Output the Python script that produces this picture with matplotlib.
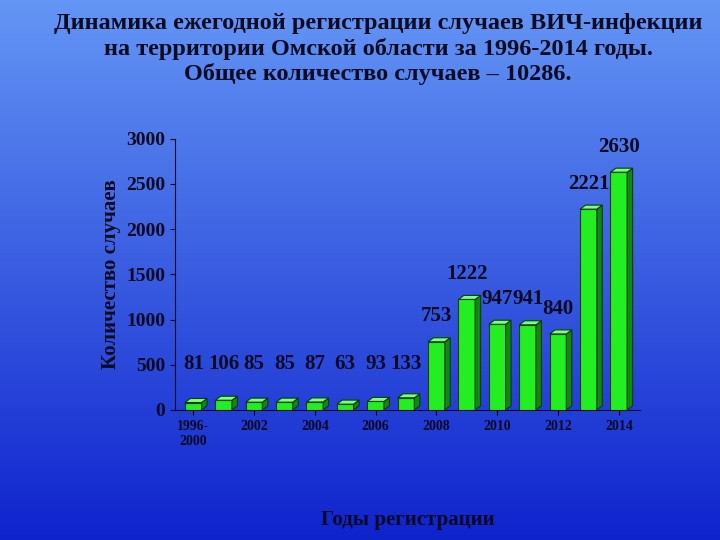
import numpy as np
import matplotlib
matplotlib.use('Agg')
import matplotlib.pyplot as plt
from matplotlib.patches import Polygon

plt.rcParams['font.family'] = ['Liberation Serif', 'DejaVu Serif']
plt.rcParams['font.weight'] = 'bold'

years = ['1996-\n2000', '2001', '2002', '2003', '2004', '2005', '2006', '2007',
         '2008', '2009', '2010', '2011', '2012', '2013', '2014']
cases = [81, 106, 85, 85, 87, 63, 93, 133, 753, 1222, 947, 941, 840, 2221, 2630]

fig = plt.figure(figsize=(7.2, 5.4), dpi=100)

# background gradient
bg = fig.add_axes([0, 0, 1, 1], zorder=-10)
top = np.array([100, 150, 245]) / 255
bottom = np.array([15, 35, 205]) / 255
t = np.linspace(0, 1, 256)[:, None]
grad = top * (1 - t) + bottom * t
bg.imshow(grad[:, None, :].repeat(2, axis=1), aspect='auto', extent=[0, 1, 0, 1])
bg.axis('off')

fig.text(0.525, 0.975, 'Динамика ежегодной регистрации случаев ВИЧ-инфекции\n'
         'на территории Омской области за 1996-2014 годы.\n'
         'Общее количество случаев – 10286.',
         ha='center', va='top', fontsize=17.5, color='#0a0a20', linespacing=1.2)

ax = fig.add_axes([0.243, 0.241, 0.646, 0.502])
ax.patch.set_alpha(0)
x = np.arange(len(cases))
w = 0.55
dx, dy = 0.18, 45
ax.bar(x, cases, width=w, color='#22ee22', edgecolor='#0a3a0a', linewidth=0.8, zorder=3)
for xi, v in zip(x, cases):
    side = Polygon([(xi + w/2, 0), (xi + w/2 + dx, dy), (xi + w/2 + dx, v + dy), (xi + w/2, v)],
                   closed=True, fc='#0f8a0f', ec='#0a3a0a', lw=0.8, zorder=3)
    topp = Polygon([(xi - w/2, v), (xi - w/2 + dx, v + dy), (xi + w/2 + dx, v + dy), (xi + w/2, v)],
                   closed=True, fc='#7cff7c', ec='#0a3a0a', lw=0.8, zorder=3)
    ax.add_patch(side)
    ax.add_patch(topp)
    ly = max(v + 110, 400) if v < 500 else v + 170
    ax.text(xi, ly, str(v), ha='center', va='bottom', fontsize=15, color='#0a0a20')

ax.set_xlim(-0.6, len(cases) - 0.3)
ax.set_ylim(0, 3000)
ax.set_yticks(range(0, 3001, 500))
idx = [0, 2, 4, 6, 8, 10, 12, 14]
ax.set_xticks(idx)
ax.set_xticklabels([years[i] for i in idx], fontsize=10, ha='center', color='#0a0a20')
ax.tick_params(axis='y', labelsize=14, colors='#0a0a20')
for s in ['top', 'right']:
    ax.spines[s].set_visible(False)
for s in ['left', 'bottom']:
    ax.spines[s].set_color('#0a0a20')
ax.set_ylabel('Количество случаев', fontsize=15, color='#0a0a20', fontweight='bold')
ax.set_xlabel('Годы регистрации', fontsize=15, color='#0a0a20', fontweight='bold', labelpad=45)

fig.savefig('out.png', dpi=100)
